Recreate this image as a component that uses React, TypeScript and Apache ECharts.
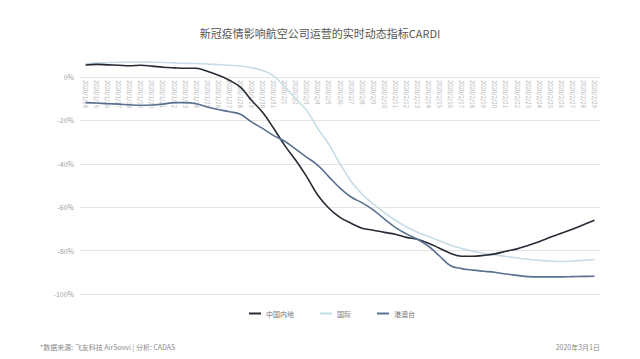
import React, { useEffect, useRef } from "react";
import * as echarts from "echarts";

const categories: string[] = [
  "2020/1/14", "2020/1/15", "2020/1/16", "2020/1/17", "2020/1/18", "2020/1/19", "2020/1/20",
  "2020/1/21", "2020/1/22", "2020/1/23", "2020/1/24", "2020/1/25", "2020/1/26", "2020/1/27",
  "2020/1/28", "2020/1/29", "2020/1/30", "2020/1/31", "2020/2/1", "2020/2/2", "2020/2/3",
  "2020/2/4", "2020/2/5", "2020/2/6", "2020/2/7", "2020/2/8", "2020/2/9", "2020/2/10",
  "2020/2/11", "2020/2/12", "2020/2/13", "2020/2/14", "2020/2/15", "2020/2/16", "2020/2/17",
  "2020/2/18", "2020/2/19", "2020/2/20", "2020/2/21", "2020/2/22", "2020/2/23", "2020/2/24",
  "2020/2/25", "2020/2/26", "2020/2/27", "2020/2/28", "2020/2/29",
];

const mainland: number[] = [
  5.5, 5.8, 5.6, 5.4, 5.2, 5.4, 5.0, 4.5, 4.2, 4.0, 4.0, 2.6, 0.8, -1.5, -4.7, -10.7,
  -16.3, -23.6, -31.5, -38.4, -46, -54.5, -60.5, -64.7, -67.4, -69.7, -70.6, -71.6, -72.5,
  -73.9, -74.8, -76.6, -78.9, -81.3, -82.6, -82.6, -82.2, -81.5, -80.3, -79.2, -77.6,
  -75.9, -73.9, -72, -70.2, -68.1, -66,
];

const international: number[] = [
  6.2, 6.4, 6.6, 6.8, 6.9, 6.9, 6.8, 6.7, 6.5, 6.3, 6.2, 6.0, 5.7, 5.4, 5.1, 4.3, 3.0,
  0.5, -4.5, -10, -15.5, -23.8, -31, -40, -48, -54, -58.5, -62.5, -66, -69, -71.5, -73.5,
  -75.5, -77.5, -79, -80.3, -81.2, -82, -82.7, -83.4, -84, -84.5, -84.8, -85, -84.8,
  -84.5, -84.1,
];

const hkMacaoTaiwan: number[] = [
  -11.8, -12, -12.3, -12.5, -12.8, -13, -12.9, -12.5, -11.8, -11.8, -12.3, -13.8, -15,
  -16, -17.2, -20.7, -23.7, -27, -29.6, -33.2, -37, -40.7, -46, -51.2, -55.3, -58, -61.2,
  -65.4, -69.3, -72.3, -74.8, -78, -82.5, -87, -88.3, -89, -89.5, -90, -90.8, -91.4, -92,
  -92.1, -92.1, -92.1, -92, -91.9, -91.8,
];

const seriesNames: string[] = ["中国内地", "国际", "港澳台"];
const seriesColors: string[] = ["#262a33", "#c6dce6", "#5a7091"];

const titleText = "新冠疫情影响航空公司运营的实时动态指标CARDI";
const sourceText = "*数据来源: 飞友科技 AirSovvi | 分析: CADAS";
const dateText = "2020年3月1日";

const FONT = "'Noto Sans CJK SC', 'Noto Sans', sans-serif";

export default function App() {
  const ref = useRef<HTMLDivElement>(null);

  useEffect(() => {
    if (!ref.current) return;
    const chart = echarts.init(ref.current, undefined, { renderer: "svg" });
    const datasets = [mainland, international, hkMacaoTaiwan];
    chart.setOption({
      animation: false,
      backgroundColor: "#ffffff",
      textStyle: { fontFamily: FONT },
      title: {
        text: titleText,
        left: "center",
        top: 22,
        textStyle: { fontSize: 11, fontWeight: "normal", color: "#555555", fontFamily: FONT },
      },
      legend: {
        data: seriesNames,
        top: 305,
        left: 244,
        itemWidth: 12,
        itemHeight: 2,
        itemGap: 26,
        icon: "rect",
        textStyle: { fontSize: 7, color: "#777777", fontFamily: FONT },
      },
      grid: { left: 80, right: 40, top: 77, bottom: 65, containLabel: false },
      xAxis: {
        type: "category",
        data: categories,
        boundaryGap: true,
        position: "top",
        axisLine: { show: true, onZero: false, lineStyle: { color: "#e5e5e5", width: 1 } },
        axisTick: { show: false },
        axisLabel: {
          inside: true,
          rotate: 90,
          interval: 0,
          fontSize: 6,
          color: "#b5b5b5",
          margin: 3,
          fontFamily: FONT,
        },
      },
      yAxis: {
        type: "value",
        min: -100,
        max: 0,
        interval: 20,
        axisLine: { show: false },
        axisTick: { show: false },
        axisLabel: {
          formatter: (v: number) => `${v}%`,
          fontSize: 7,
          color: "#a0a0a0",
          margin: 6,
          fontFamily: FONT,
        },
        splitLine: { lineStyle: { color: "#e5e5e5", width: 1 } },
      },
      series: seriesNames.map((name, i) => ({
        name,
        type: "line",
        data: datasets[i],
        smooth: 0.4,
        clip: false,
        showSymbol: false,
        symbol: "none",
        lineStyle: { color: seriesColors[i], width: 1.6 },
        itemStyle: { color: seriesColors[i] },
        z: i === 1 ? 1 : 2,
      })),
      graphic: [
        {
          type: "text",
          left: 40,
          top: 343,
          style: { text: sourceText, fontSize: 7, fill: "#8a8a8a", fontFamily: FONT },
        },
        {
          type: "text",
          right: 40,
          top: 343,
          style: { text: dateText, fontSize: 7, fill: "#8a8a8a", fontFamily: FONT },
        },
      ],
    });
    return () => chart.dispose();
  }, []);

  return (
    <div
      ref={ref}
      style={{ position: "fixed", left: 0, top: 0, width: 640, height: 359, background: "#fff" }}
    />
  );
}
